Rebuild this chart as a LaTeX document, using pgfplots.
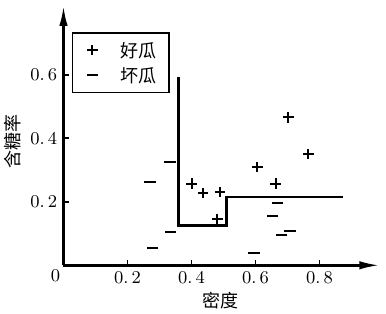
\documentclass[border=0pt]{standalone}
\usepackage{pgfplots}
\pgfplotsset{compat=1.18}
\usepackage{fontspec}
\newfontfamily\cjk{Noto Sans CJK SC}
\usetikzlibrary{arrows.meta}
\pgfplotsset{myimg/.style={legend image code/.code={\path[draw=none] (0pt,0pt) -- (24pt,0pt); \draw[##1] plot coordinates {(10pt,0pt)};}}}
\begin{document}
\fontsize{9pt}{11pt}\selectfont
\begin{tikzpicture}
\begin{axis}[
  x=160pt, y=158.75pt,
  xmin=0, xmax=0.99, ymin=0, ymax=0.82,
  enlargelimits=false,
  axis lines=left,
  axis line style={line width=1.4pt, -{Latex[length=10.5pt,width=4.2pt]}},
  tick align=inside,
  major tick length=2.6pt,
  tick style={line width=0.8pt, black},
  xtick={0.2,0.4,0.6,0.8},
  xticklabels={$0.\,2$,$0.\,4$,$0.\,6$,$0.\,8$},
  ytick={0.2,0.4,0.6},
  yticklabels={$0.\,2$,$0.\,4$,$0.\,6$},
  tick label style={font=\fontsize{9pt}{11pt}\selectfont},
  xlabel={\cjk 密度},
  ylabel={\cjk 含糖率},
  xlabel style={at={([yshift=-17.4pt]axis description cs:0.494,0)}, anchor=center, font=\fontsize{9pt}{11pt}\selectfont},
  ylabel style={at={([xshift=-25.3pt]axis description cs:0,0.477)}, anchor=center, font=\fontsize{9pt}{11pt}\selectfont},
  legend style={at={(axis cs:0.0256,0.734)}, anchor=north west, draw=black, line width=0.8pt,
    inner xsep=0pt, inner ysep=4.1pt, row sep=3.5pt, column sep=0pt,
    nodes={inner sep=0pt, text height=8pt, text depth=1pt, text width=24.3pt, align=left, font=\cjk\fontsize{9pt}{11pt}\selectfont}},
  legend cell align=left,
  clip=false,
]
\addplot[only marks, mark=+, mark size=2.6pt, line width=1pt, black, myimg]
  coordinates {
  (0.703,0.466) (0.765,0.351) (0.606,0.309) (0.663,0.257)
  (0.400,0.257) (0.435,0.227) (0.489,0.231) (0.481,0.146)
  };
\addlegendentry{好瓜}
\addplot[only marks, mark=-, mark size=2.8pt, line width=1pt, black, myimg]
  coordinates {
  (0.333,0.324) (0.270,0.263) (0.335,0.106) (0.279,0.054)
  (0.668,0.195) (0.654,0.154) (0.682,0.094) (0.708,0.108)
  (0.595,0.038)
  };
\addlegendentry{坏瓜}
\addplot[black, line width=1.4pt, line join=miter, mark=none, forget plot]
  coordinates {(0.36,0.594) (0.36,0.125) (0.509,0.125) (0.509,0.215) (0.872,0.215)};
\node[anchor=center, font=\fontsize{9pt}{11pt}\selectfont] at (axis cs:0,0) [xshift=-4pt, yshift=-5pt] {$0$};
\coordinate (O) at (axis cs:0,0);
\end{axis}
\pgfresetboundingbox
\path (O) ++(-31.75pt,-24.35pt) rectangle ++(193pt,157pt);
\end{tikzpicture}
\end{document}
